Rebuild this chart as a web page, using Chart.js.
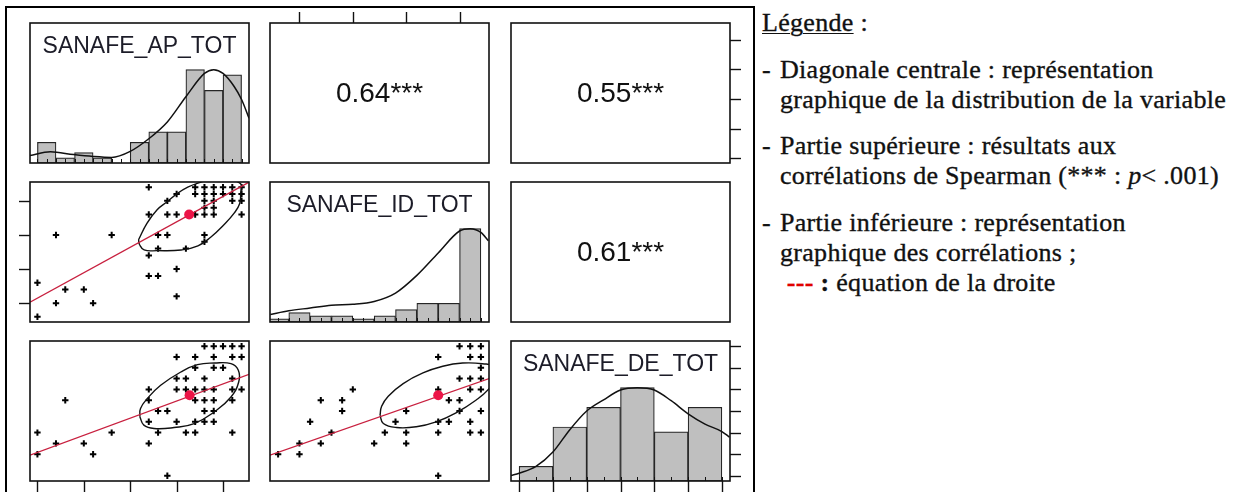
<!DOCTYPE html>
<html lang="fr">
<head>
<meta charset="utf-8">
<title>SANAFE – pairs.panels</title>
<script src="https://cdn.jsdelivr.net/npm/chart.js@4.4.1/dist/chart.umd.min.js"></script>
<style>
  html, body { margin: 0; padding: 0; background: #fff; overflow: hidden; }
  body { position: relative; width: 1241px; height: 492px; }
  #frame { position: absolute; left: 5px; top: 6px; width: 746px; height: 500px;
           border: 2px solid #000; border-bottom: none; }
  .panel { position: absolute; }
  #legend { position: absolute; left: 762px; top: 8px; color: #111; white-space: nowrap;
            font-family: 'Liberation Serif', 'Times New Roman', serif;
            font-size: 26px; line-height: 30px; letter-spacing: 0.3px;
            -webkit-text-stroke: 0.35px #111; }
  #legend .u { text-decoration: underline; text-underline-offset: 2px; text-decoration-thickness: 1px; }
  #legend .item { position: relative; padding-left: 18px; margin-top: 16.7px; }
  #legend .dash { position: absolute; left: 0; }
  #legend .red { color: #e00000; -webkit-text-stroke: 0.35px #e00000; }
</style>
</head>
<body>
<div id="frame"></div>

<div id="legend">
  <div><span class="u">Légende</span> :</div>
  <div class="item"><span class="dash">-</span>Diagonale centrale : représentation<br>graphique de la distribution de la variable</div>
  <div class="item"><span class="dash">-</span>Partie supérieure : résultats aux<br>corrélations de Spearman (*** : <i>p</i>&lt; .001)</div>
  <div class="item"><span class="dash">-</span>Partie inférieure : représentation<br>graphique des corrélations ;<br>&nbsp;<b class="red">---</b><b> :</b> équation de la droite</div>
</div>

<script>
// ─── Values ──────────────────────────────────────────────────────────────────

const varNames = ['SANAFE_AP_TOT', 'SANAFE_ID_TOT', 'SANAFE_DE_TOT'];

// plot ranges (data range + 4 %) and axis ticks
const apLim = [-0.8, 22.8];
const idLim = [2.24, 22.76];
const deLim = [-0.48, 12.48];
const histLim = [0, 1.5];

const apTicks = [0, 5, 10, 15, 20];
const idTicks = [5, 10, 15, 20];
const deTicks = [0, 2, 4, 6, 8, 10, 12];

// histograms
const apBreaks = [0, 2, 4, 6, 8, 10, 12, 14, 16, 18, 20, 22];
const apCounts = [4, 1, 2, 1, 0, 4, 6, 6, 18, 14, 17];
const idBreaks = [2, 4, 6, 8, 10, 12, 14, 16, 18, 20, 22];
const idCounts = [1, 3, 2, 2, 1, 2, 4, 6, 6, 30];
const deBreaks = [0, 2, 4, 6, 8, 10, 12];
const deCounts = [3, 11, 15, 19, 10, 15];

// density curves (scaled so the peak = 1)
const apDensX = [-0.8, 1.4, 3.9, 6.0, 8.0, 10.0, 12.0, 14.0, 16.0, 18.0, 19.0, 20.0, 21.2, 22.0, 22.8];
const apDensY = [0.08, 0.12, 0.09, 0.07, 0.06, 0.125, 0.26, 0.44, 0.71, 0.96, 1.0, 0.96, 0.82, 0.68, 0.48];
const idDensX = [2.27, 4, 6, 8, 10, 12, 14, 16, 18, 20, 21, 22, 22.7];
const idDensY = [0.08, 0.12, 0.15, 0.18, 0.19, 0.22, 0.31, 0.5, 0.74, 0.975, 1.0, 0.96, 0.87];
const deDensX = [-0.48, 0, 1, 2, 3, 4, 5, 6, 7, 8, 9, 10, 11, 12, 12.45];
const deDensY = [0.058, 0.083, 0.156, 0.31, 0.55, 0.75, 0.87, 0.975, 1.0, 0.975, 0.86, 0.72, 0.61, 0.53, 0.47];

// rug marks
const apRug = [0, 1, 2, 3, 4, 5, 6, 7, 8, 9, 10, 11, 12, 13, 14, 15, 16, 17, 18, 19, 20, 21, 22];
const idRug = [3, 4, 5, 6, 7, 8, 9, 10, 11, 12, 13, 14, 15, 16, 17, 18, 19, 20, 21, 22];
const deRug = [0, 1, 2, 3, 4, 5, 6, 7, 8, 9, 10, 11, 12];

// Spearman correlations
const corrApId = '0.64';
const corrApDe = '0.55';
const corrIdDe = '0.61';
const corrStars = '***';

// scatter: AP (x) vs ID (y)
const apIdPoints = [
  [12, 22], [17, 22], [18, 22], [19, 22], [20, 22], [21, 22], [22, 22],
  [15, 21], [17, 21], [18, 21], [19, 21], [20, 21], [21, 21], [22, 21],
  [14, 20], [18, 20], [19, 20], [21, 20], [22, 20],
  [18, 19], [19, 19],
  [12, 18], [14, 18], [15, 18], [17, 18], [18, 18], [19, 18], [22, 18],
  [2, 15], [8, 15], [13, 15], [14, 15], [18, 15],
  [18, 14], [13, 13], [16, 13], [12, 12], [15, 10], [12, 9], [13, 9],
  [0, 8], [3, 7], [5, 7], [15, 6], [2, 5], [6, 5], [0, 3]
];
const apIdMean = [16.35, 18.0];
const apIdFit = [[-0.8, 5.15], [22.8, 22.74]];
const apIdEllipseX = [10.9, 11.8, 12.9, 14.0, 15.1, 16.2, 17.3, 19.5, 21.9, 21.9, 21.8, 21.2, 20.1, 18.7, 17.3, 15.5, 12.9, 11.5, 11.0, 10.9];
const apIdEllipseY = [14.3, 16.7, 18.7, 19.9, 21.1, 22.0, 22.6, 23.4, 22.5, 21.1, 19.6, 18.2, 16.5, 14.7, 13.4, 12.8, 12.7, 12.8, 13.6, 14.3];

// scatter: AP (x) vs DE (y)
const apDePoints = [
  [18, 12], [19, 12], [20, 12], [21, 12], [22, 12],
  [15, 11], [17, 11], [19, 11], [21, 11], [22, 11],
  [17, 10], [19, 10], [20, 10],
  [15, 9], [16, 9], [18, 9], [21, 9],
  [12, 8], [15, 8], [16, 8], [17, 8], [18, 8], [19, 8], [21, 8], [22, 8],
  [3, 7], [12, 7], [17, 7], [18, 7], [19, 7], [21, 7],
  [13, 6], [14, 6], [18, 6], [19, 6],
  [12, 5], [15, 5], [17, 5], [18, 5], [19, 5],
  [0, 4], [8, 4], [13, 4], [16, 4], [17, 4], [21, 4],
  [2, 3], [5, 3], [12, 3], [0, 2], [6, 2], [14, 0]
];
const apDeMean = [16.4, 7.45];
const apDeFit = [[-0.8, 1.92], [22.8, 9.4]];
const apDeEllipseX = [11.04, 11.47, 12.56, 14.72, 16.89, 19.06, 20.86, 21.69, 21.65, 20.86, 19.06, 17.25, 15.45, 13.28, 11.84, 11.11, 11.04];
const apDeEllipseY = [5.46, 4.69, 4.38, 4.47, 4.84, 5.92, 7.3, 8.69, 9.77, 10.38, 10.44, 10.29, 9.61, 8.38, 7.15, 6.23, 5.46];

// scatter: ID (x) vs DE (y)
const idDePoints = [
  [20, 12], [21, 12], [22, 12],
  [18, 11], [21, 11], [22, 11],
  [22, 10],
  [20, 9], [21, 9], [22, 9],
  [10, 8], [18, 8], [21, 8], [22, 8],
  [7, 7], [9, 7], [19, 7], [20, 7],
  [9, 6], [15, 6], [20, 6], [22, 6],
  [6, 5], [14, 5], [18, 5], [19, 5], [21, 5],
  [8, 4], [13, 4], [15, 4], [18, 4], [21, 4], [22, 4],
  [5, 3], [7, 3], [12, 3], [15, 3],
  [3, 2], [5, 2], [18, 0]
];
const idDeMean = [18.0, 7.45];
const idDeFit = [[2.24, 1.92], [22.77, 9.0]];
const idDeEllipseX = [12.55, 12.86, 14.1, 15.95, 17.81, 19.67, 21.53, 22.77, 23.54, 23.39, 22.15, 20.29, 18.43, 16.57, 14.72, 13.32, 12.7, 12.55];
const idDeEllipseY = [5.61, 4.84, 4.47, 4.54, 5.0, 5.83, 7.0, 8.07, 9.3, 10.07, 10.38, 10.44, 10.14, 9.52, 8.54, 7.37, 6.44, 5.61];

// ─── Layout ──────────────────────────────────────────────────────────────────

const colLeft = [30, 270, 511];
const rowTop  = [23, 182, 341];
const PANEL_W = 219;
const PANEL_H = 140;
const PAD     = 14;
const TICK    = 11;

const SANS = '"Liberation Sans", Arial, sans-serif';

// frame, axis ticks, rug and panel text
const pairsFrame = {
  id: 'pairsFrame',
  afterDatasetsDraw(chart, args, opts) {
    const { ctx, chartArea: a, scales } = chart;
    ctx.save();
    ctx.strokeStyle = '#111';

    if (opts.rug) {
      ctx.lineWidth = 1;
      opts.rug.forEach(v => {
        const x = Math.round(scales.x.getPixelForValue(v)) + 0.5;
        ctx.beginPath();
        ctx.moveTo(x, a.bottom);
        ctx.lineTo(x, a.bottom - 4);
        ctx.stroke();
      });
    }

    ctx.lineWidth = 1.6;
    ctx.strokeRect(a.left, a.top, a.right - a.left, a.bottom - a.top);

    ctx.lineWidth = 1.4;
    (opts.ticks || []).forEach(t => {
      const horiz = t.side === 'top' || t.side === 'bottom';
      const scale = scales[horiz ? 'x' : 'y'];
      t.values.forEach(v => {
        const p = Math.round(scale.getPixelForValue(v)) + 0.5;
        ctx.beginPath();
        if (t.side === 'top')    { ctx.moveTo(p, a.top);    ctx.lineTo(p, a.top - TICK); }
        if (t.side === 'bottom') { ctx.moveTo(p, a.bottom); ctx.lineTo(p, a.bottom + TICK); }
        if (t.side === 'left')   { ctx.moveTo(a.left, p);   ctx.lineTo(a.left - TICK, p); }
        if (t.side === 'right')  { ctx.moveTo(a.right, p);  ctx.lineTo(a.right + TICK, p); }
        ctx.stroke();
      });
    });

    const cx = (a.left + a.right) / 2;
    ctx.textAlign = 'center';
    ctx.textBaseline = 'middle';
    if (opts.label) {
      ctx.fillStyle = '#1c1c28';
      ctx.font = '23px ' + SANS;
      ctx.fillText(opts.label, cx, a.top + 24);
    }
    if (opts.corr) {
      ctx.fillStyle = '#111';
      ctx.font = '28px ' + SANS;
      ctx.fillText(opts.corr, cx, (a.top + a.bottom) / 2 + 1);
    }
    ctx.restore();
  }
};

function hiddenScale(lim) {
  return { type: 'linear', display: false, offset: false, min: lim[0], max: lim[1], ticks: { maxTicksLimit: 4 } };
}

function histDatasets(breaks, counts, densX, densY) {
  const top = Math.max(...counts);
  return [
    {
      type: 'bar', yAxisID: 'yh', order: 2,
      data: counts.map((c, i) => ({ x: (breaks[i] + breaks[i + 1]) / 2, y: c / top })),
      backgroundColor: '#bfbfbf', borderColor: '#262626', borderWidth: 1.2, borderSkipped: false,
      barPercentage: 1, categoryPercentage: 1, grouped: false,
    },
    {
      type: 'line', yAxisID: 'yh', order: 1,
      data: densX.map((x, i) => ({ x, y: densY[i] })),
      borderColor: '#111', borderWidth: 1.5, pointRadius: 0, fill: false,
      cubicInterpolationMode: 'monotone',
    },
  ];
}

function scatterDatasets(points, mean, fit, ellX, ellY) {
  return [
    {
      type: 'scatter', order: 0,
      data: [{ x: mean[0], y: mean[1] }],
      pointRadius: 5, backgroundColor: '#ec1447', borderColor: '#ec1447', borderWidth: 0,
    },
    {
      type: 'line', order: 1,
      data: fit.map(p => ({ x: p[0], y: p[1] })),
      borderColor: '#c8203f', borderWidth: 1.3, pointRadius: 0, fill: false,
    },
    {
      type: 'line', order: 2,
      data: ellX.map((x, i) => ({ x, y: ellY[i] })),
      borderColor: '#111', borderWidth: 1.4, pointRadius: 0, fill: false, tension: 0.45,
    },
    {
      type: 'scatter', order: 3,
      data: points.map(p => ({ x: p[0], y: p[1] })),
      pointStyle: 'cross', pointRadius: 3.2, borderColor: '#000', borderWidth: 2,
    },
  ];
}

function makePanel(row, col, type, datasets, scales, frame) {
  const wrap = document.createElement('div');
  wrap.className = 'panel';
  wrap.style.left = (colLeft[col] - PAD) + 'px';
  wrap.style.top  = (rowTop[row] - PAD) + 'px';
  const canvas = document.createElement('canvas');
  canvas.width  = PANEL_W + 2 * PAD;
  canvas.height = PANEL_H + 2 * PAD;
  wrap.appendChild(canvas);
  document.body.appendChild(wrap);

  return new Chart(canvas, {
    type,
    data: { datasets },
    options: {
      responsive: false,
      animation: false,
      devicePixelRatio: 1,
      events: [],
      layout: { padding: PAD },
      scales,
      plugins: {
        legend:  { display: false },
        tooltip: { enabled: false },
        pairsFrame: frame,
      },
    },
    plugins: [pairsFrame],
  });
}

// ─── Panels ──────────────────────────────────────────────────────────────────

// diagonal: histograms
makePanel(0, 0, 'bar', histDatasets(apBreaks, apCounts, apDensX, apDensY),
  { x: hiddenScale(apLim), y: hiddenScale(apLim), yh: hiddenScale(histLim) },
  { label: varNames[0], rug: apRug });

makePanel(1, 1, 'bar', histDatasets(idBreaks, idCounts, idDensX, idDensY),
  { x: hiddenScale(idLim), y: hiddenScale(idLim), yh: hiddenScale(histLim) },
  { label: varNames[1], rug: idRug });

makePanel(2, 2, 'bar', histDatasets(deBreaks, deCounts, deDensX, deDensY),
  { x: hiddenScale(deLim), y: hiddenScale(deLim), yh: hiddenScale(histLim) },
  { label: varNames[2], rug: deRug,
    ticks: [{ side: 'bottom', values: deTicks }, { side: 'right', values: deTicks }] });

// upper: correlations
makePanel(0, 1, 'scatter', [],
  { x: hiddenScale(idLim), y: hiddenScale(apLim) },
  { corr: corrApId + corrStars, ticks: [{ side: 'top', values: idTicks }] });

makePanel(0, 2, 'scatter', [],
  { x: hiddenScale(deLim), y: hiddenScale(apLim) },
  { corr: corrApDe + corrStars, ticks: [{ side: 'right', values: apTicks }] });

makePanel(1, 2, 'scatter', [],
  { x: hiddenScale(deLim), y: hiddenScale(idLim) },
  { corr: corrIdDe + corrStars });

// lower: scatter plots
makePanel(1, 0, 'scatter', scatterDatasets(apIdPoints, apIdMean, apIdFit, apIdEllipseX, apIdEllipseY),
  { x: hiddenScale(apLim), y: hiddenScale(idLim) },
  { ticks: [{ side: 'left', values: idTicks }] });

makePanel(2, 0, 'scatter', scatterDatasets(apDePoints, apDeMean, apDeFit, apDeEllipseX, apDeEllipseY),
  { x: hiddenScale(apLim), y: hiddenScale(deLim) },
  { ticks: [{ side: 'bottom', values: apTicks }] });

makePanel(2, 1, 'scatter', scatterDatasets(idDePoints, idDeMean, idDeFit, idDeEllipseX, idDeEllipseY),
  { x: hiddenScale(idLim), y: hiddenScale(deLim) },
  {});
</script>
</body>
</html>
